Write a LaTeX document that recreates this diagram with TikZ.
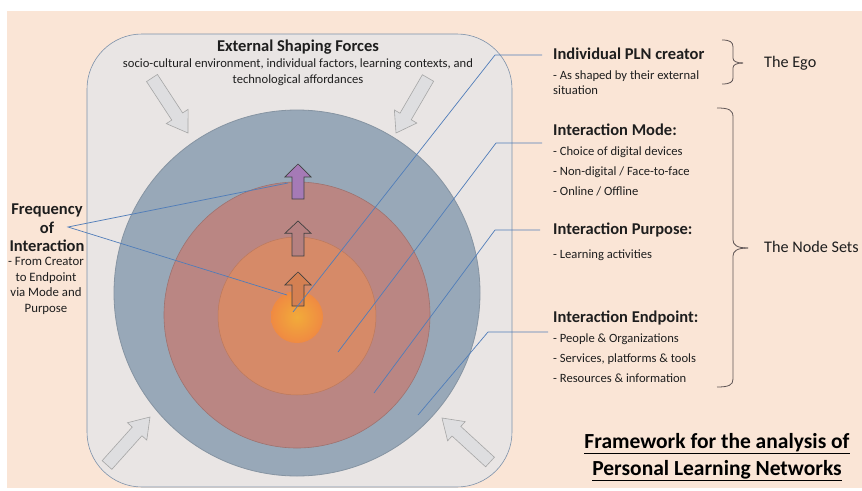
\documentclass[tikz,border=0pt]{standalone}
\usepackage{fontspec}
\setmainfont{Carlito}
\usetikzlibrary{calc}
\definecolor{peach}{RGB}{250,229,214}
\definecolor{rectfill}{RGB}{233,229,228}
\definecolor{framecol}{RGB}{125,145,170}
\definecolor{bluec}{RGB}{152,168,184}
\definecolor{mauvec}{RGB}{186,134,131}
\definecolor{salmonc}{RGB}{214,138,104}
\definecolor{orangec}{RGB}{238,150,72}
\definecolor{leadc}{RGB}{80,125,185}
\definecolor{bracec}{RGB}{95,85,85}
\definecolor{txtc}{RGB}{30,30,30}
\definecolor{greyfill}{RGB}{222,222,224}
\newcommand\blkarrow[6]{%
  \coordinate (bkT) at #1; \coordinate (bkH) at #2;
  \coordinate (bkB) at ($(bkT)!#3!(bkH)$);
  \filldraw[#6] ($(bkT)!#4!90:(bkH)$) -- ($(bkB)!#4!90:(bkH)$) -- ($(bkB)!#5!90:(bkH)$) -- (bkH) -- ($(bkB)!#5!-90:(bkH)$) -- ($(bkB)!#4!-90:(bkH)$) -- ($(bkT)!#4!-90:(bkH)$) -- cycle;}
\begin{document}
\begin{tikzpicture}[x=1pt,y=-1pt,
  hb/.style={font=\fontsize{16.5}{19}\selectfont\bfseries, text=txtc, inner sep=0pt},
  sm/.style={font=\fontsize{12.6}{15}\selectfont, text=txtc, inner sep=0pt},
  lft/.style={anchor=west},
  leader/.style={draw=leadc, line width=0.7pt},
  greyarrow/.style={fill=greyfill, draw=black!35, line width=0.6pt},
  uparrow/.style={draw=black!75, line width=0.7pt},
  bracestyle/.style={draw=bracec, line width=0.8pt}
]
\useasboundingbox (0,0) rectangle (862,490);
\fill[white] (0,0) rectangle (862,490);
\fill[peach] (7,11) rectangle (862,488);
\draw[framecol, fill=rectfill, rounded corners=55pt, line width=0.6pt] (87,34) rectangle (512,487);

% corner arrows
\blkarrow{(152,78)}{(188,133)}{0.7}{6.5pt}{13pt}{greyarrow}
\blkarrow{(428,78)}{(396,133)}{0.7}{6.5pt}{13pt}{greyarrow}
\blkarrow{(107,465)}{(150,417)}{0.7}{6.5pt}{13pt}{greyarrow}
\blkarrow{(490,462)}{(442,418)}{0.7}{6.5pt}{13pt}{greyarrow}

% circles
\fill[bluec, draw=bluec!88!black, line width=0.8pt] (297,293) circle[radius=183pt];
\fill[mauvec, draw=mauvec!85!black, line width=0.6pt] (297,315) circle[radius=133pt];
\fill[salmonc, draw=salmonc!88!black, line width=0.5pt] (297,316) circle[radius=79pt];
\shade[inner color=orangec!80!yellow, outer color=orangec!92!red] (297,317) circle[radius=26pt];

% up arrows
\blkarrow{(298,199)}{(298,164)}{0.63}{6pt}{13pt}{uparrow, fill={rgb,255:red,165;green,122;blue,182}}
\blkarrow{(298,256)}{(298,221)}{0.65}{6pt}{13pt}{uparrow, fill={rgb,255:red,180;green,128;blue,128}}
\blkarrow{(298,306)}{(298,272)}{0.62}{6pt}{13pt}{uparrow, fill={rgb,255:red,212;green,128;blue,82}}

% top text
\node[hb] (esf) at (298,47) {External Shaping Forces};
\node[sm] (esf1) at (298,64) {socio-cultural environment, individual factors, learning contexts, and};
\node[sm] (esf2) at (298,80) {technological affordances};

% left text
\node[hb, align=center, font=\fontsize{16.5}{18.5}\selectfont\bfseries] (freq) at (47,228) {Frequency\\of\\Interaction};
\node[sm, align=center, font=\fontsize{12.8}{15.5}\selectfont] (freqd) at (46,286) {- From Creator\\to Endpoint\\via Mode and\\Purpose};

% right text
\node[hb, lft] (tPLN) at (553,54) {Individual PLN creator};
\node[sm, lft] (tPLN1) at (553,76) {- As shaped by their external};
\node[sm, lft] (tPLN2) at (553,90) {situation};
\node[hb, lft] (tMode) at (553,130) {Interaction Mode:};
\node[sm, lft] (tMode1) at (553,152) {- Choice of digital devices};
\node[sm, lft] (tMode2) at (553,172) {- Non-digital / Face-to-face};
\node[sm, lft] (tMode3) at (553,191) {- Online / Offline};
\node[hb, lft] (tPurp) at (553,230) {Interaction Purpose:};
\node[sm, lft] (tPurp1) at (553,255) {- Learning activities};
\node[hb, lft] (tEnd) at (553,318) {Interaction Endpoint:};
\node[sm, lft] (tEnd1) at (553,339) {- People \& Organizations};
\node[sm, lft] (tEnd2) at (553,359) {- Services, platforms \& tools};
\node[sm, lft] (tEnd3) at (553,378) {- Resources \& information};

\node[lft, inner sep=0pt, font=\fontsize{16.2}{18}\selectfont, text=txtc] (ego) at (764,63) {The Ego};
\node[lft, inner sep=0pt, font=\fontsize{16.2}{18}\selectfont, text=txtc] (nodesets) at (764,247) {The Node Sets};

\node[inner sep=0pt, align=center, font=\fontsize{21.5}{27}\selectfont\bfseries, text=black] (title) at (717,457) {\underline{Framework for the analysis of}\\\underline{Personal Learning Networks}};

% braces
\draw[bracestyle] (722,40) .. controls (730,40) and (733,42) .. (733,47) -- (733,58) .. controls (733,61) and (736,63) .. (743,63);
\draw[bracestyle] (743,63) .. controls (736,63) and (733,65) .. (733,68) -- (733,78) .. controls (733,82) and (730,84) .. (722,84);
\draw[bracestyle] (717,108) .. controls (729,108) and (733,110) .. (733,117) -- (733,240) .. controls (733,245) and (737,248) .. (748,248);
\draw[bracestyle] (748,248) .. controls (737,248) and (733,251) .. (733,256) -- (733,379) .. controls (733,385) and (729,387) .. (717,387);

% leader coordinates
\coordinate (aPLN) at (542,55);  \coordinate (bPLN) at (495,55);  \coordinate (cPLN) at (293,312);
\coordinate (aMode) at (542,143); \coordinate (bMode) at (496,143); \coordinate (cMode) at (338,352);
\coordinate (aPurp) at (540,230); \coordinate (bPurp) at (495,230); \coordinate (cPurp) at (374,393);
\coordinate (aEnd) at (548,332);  \coordinate (bEnd) at (488,332);  \coordinate (cEnd) at (418,415);
\coordinate (fq) at (68,227); \coordinate (fq1) at (288,183); \coordinate (fq2) at (287,295);

\draw[leader] (aPLN) -- (bPLN) -- (cPLN);
\draw[leader] (aMode) -- (bMode) -- (cMode);
\draw[leader] (aPurp) -- (bPurp) -- (cPurp);
\draw[leader] (aEnd) -- (bEnd) -- (cEnd);
\draw[leader] (fq1) -- (fq) -- (fq2);
\end{tikzpicture}
\end{document}
